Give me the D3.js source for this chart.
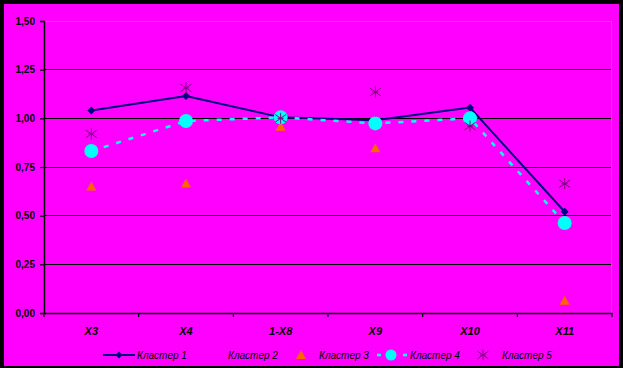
<!DOCTYPE html>
<html><head><meta charset="utf-8">
<script src="https://cdn.jsdelivr.net/npm/d3@7"></script>
<style>
html,body{margin:0;padding:0;background:#000;}
svg{display:block;}
</style></head>
<body>
<script>
const categories = ["X3","X4","1-X8","X9","X10","X11"];
const cluster1 = [1.04, 1.115, 1.005, 0.99, 1.055, 0.52];
const cluster2 = [null, null, null, null, null, null]; // no visible marks in reference
const cluster3 = [0.65, 0.665, 0.957, 0.846, 1.0, 0.063];
const cluster4 = [0.832, 0.986, 1.005, 0.974, 1.0, 0.462];
const cluster5 = [0.92, 1.156, 1.0, 1.135, 0.96, 0.664];
const yTicks = [0, 0.25, 0.5, 0.75, 1.0, 1.25, 1.5];
const legendLabels = ["Кластер 1","Кластер 2","Кластер 3","Кластер 4","Кластер 5"];

const W = 623, H = 368;
const svg = d3.select("body").append("svg").attr("width", W).attr("height", H);
svg.append("rect").attr("x",0).attr("y",0).attr("width",W).attr("height",H).attr("fill","#000");
svg.append("rect").attr("x",4).attr("y",4).attr("width",615).attr("height",362).attr("fill","#FF00FF");

const x = d3.scaleBand().domain(categories).range([44, 612]);
const y = d3.scaleLinear().domain([0, 1.5]).range([313, 21]);
const cx = d => x(d) + x.bandwidth()/2;

svg.append("g").selectAll("line").data(yTicks.filter(t => t > 0 && t < 1.5)).join("line")
  .attr("x1", 44).attr("x2", 612).attr("y1", d => y(d)).attr("y2", d => y(d))
  .attr("stroke", "#000").attr("stroke-width", 1).attr("shape-rendering","crispEdges");
svg.append("path").attr("d", `M44,${y(1.5)}H611.5V313`).attr("fill","none")
  .attr("stroke","#808080").attr("stroke-width",1).attr("shape-rendering","crispEdges");

const yAxis = d3.axisLeft(y).tickValues(yTicks).tickSize(4).tickPadding(5)
  .tickFormat(d => d3.format(".2f")(d).replace(".", ","));
const gy = svg.append("g").attr("transform","translate(44,0)").call(yAxis);
const xAxis = d3.axisBottom(x).tickSize(0).tickPadding(14);
const gx = svg.append("g").attr("transform","translate(0,313)").call(xAxis);
[gy, gx].forEach(g => {
  g.select(".domain").attr("stroke","#000").attr("stroke-width",1.5);
  g.selectAll(".tick line").attr("stroke","#000").attr("stroke-width",1.2);
  g.selectAll("text").attr("fill","#000").attr("font-family","Liberation Sans, Arial, sans-serif")
    .attr("font-weight","bold");
});
gy.selectAll("text").attr("font-size", 10);
gx.selectAll("text").attr("font-size", 11).attr("font-style","italic");
const edges = categories.map(c => x(c)).concat([x(categories[categories.length-1]) + x.bandwidth()]);
svg.append("g").selectAll("line").data(edges).join("line")
  .attr("x1", d => d).attr("x2", d => d).attr("y1", 313).attr("y2", 317)
  .attr("stroke","#000").attr("stroke-width",1.2);

function diamond(g, px, py, s) {
  g.append("path").attr("d", `M${px},${py-s}L${px+s},${py}L${px},${py+s}L${px-s},${py}Z`).attr("fill","#000080");
}
function triangle(g, px, py) {
  g.append("path").attr("d", `M${px},${py-5}L${px+5},${py+4}L${px-5},${py+4}Z`).attr("fill","#FF6600");
}
function star(g, px, py) {
  const r = 5.5;
  const p = `M${px},${py-r}V${py+r}M${px-r},${py-r*0.7}L${px+r},${py+r*0.7}M${px-r},${py+r*0.7}L${px+r},${py-r*0.7}M${px-3},${py}H${px+3}`;
  g.append("path").attr("d", p).attr("stroke","#800080").attr("stroke-width",1).attr("fill","none");
}

const idx = categories.map((c,i) => i);
const line = (vals) => d3.line().defined(i => vals[i] != null).x(i => cx(categories[i])).y(i => y(vals[i]))(idx);
svg.append("path").attr("d", line(cluster1)).attr("fill","none").attr("stroke","#000080").attr("stroke-width",2);
const g1 = svg.append("g");
cluster1.forEach((v,i) => diamond(g1, cx(categories[i]), y(v), 4));

const g3 = svg.append("g");
cluster3.forEach((v,i) => triangle(g3, cx(categories[i]), y(v)));

svg.append("path").attr("d", line(cluster4)).attr("fill","none").attr("stroke","#00FFFF")
  .attr("stroke-width",2.5).attr("stroke-dasharray","5,8");
svg.append("g").selectAll("circle").data(idx).join("circle")
  .attr("cx", i => cx(categories[i])).attr("cy", i => y(cluster4[i])).attr("r", 7).attr("fill","#00FFFF");

const g5 = svg.append("g");
cluster5.forEach((v,i) => star(g5, cx(categories[i]), y(v)));

const ly = 355;
const lg = svg.append("g").attr("font-family","Liberation Sans, Arial, sans-serif").attr("font-size",10)
  .attr("font-style","italic").attr("fill","#000");
lg.append("line").attr("x1",103).attr("x2",135).attr("y1",ly).attr("y2",ly).attr("stroke","#000080").attr("stroke-width",2);
diamond(lg, 119, ly, 3.5);
triangle(lg, 301, ly);
lg.append("line").attr("x1",377).attr("x2",407).attr("y1",ly).attr("y2",ly).attr("stroke","#00FFFF")
  .attr("stroke-width",2.5).attr("stroke-dasharray","4,22");
lg.append("circle").attr("cx",391).attr("cy",ly).attr("r",5.5).attr("fill","#00FFFF");
star(lg, 483, ly);
const lx = [137, 228, 319, 410, 502];
lg.selectAll("text").data(legendLabels).join("text")
  .attr("x", (d,i) => lx[i]).attr("y", ly + 3.5).text(d => d);
</script>
</body></html>
